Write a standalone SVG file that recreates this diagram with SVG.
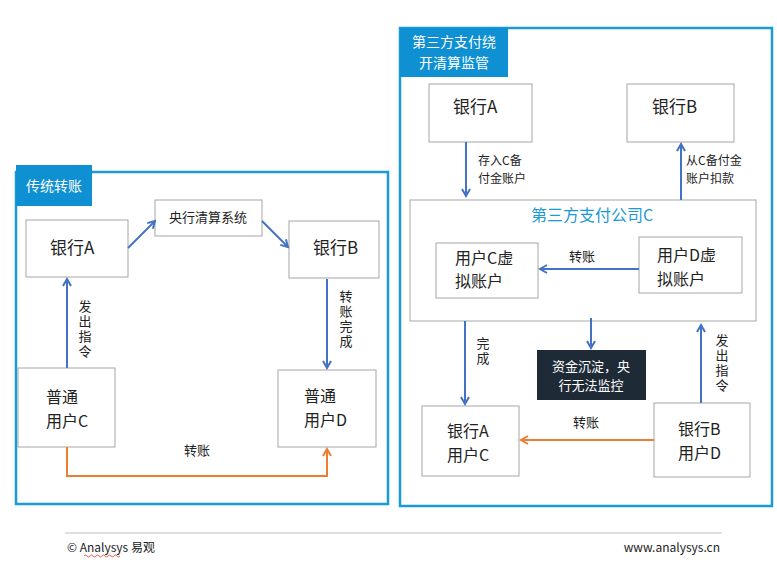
<svg xmlns="http://www.w3.org/2000/svg" width="777" height="574" viewBox="0 0 777 574">
<defs>
<style>
text{font-family:"Noto Sans CJK SC","Noto Sans",sans-serif;fill:#222;}
.panel{fill:none;stroke:#1a9ad6;stroke-width:2.5;}
.tbox{fill:#0e90d2;}
.tt{fill:#fff;font-size:14px;}
.box{fill:#fff;stroke:#a6a6a6;stroke-width:1;}
.big{font-size:17px;}
.two{font-size:16px;}
.mid{font-size:13px;text-anchor:middle;}
.lbl{font-size:13px;}
.lbl2{font-size:12px;}
.vert{font-size:13px;writing-mode:vertical-rl;letter-spacing:2px;}
.blue{fill:none;stroke:#4472c4;stroke-width:2;}
.orange{fill:none;stroke:#ed7d31;stroke-width:2;}
</style>
<marker id="ab" markerWidth="10" markerHeight="10" refX="8" refY="5" orient="auto" markerUnits="userSpaceOnUse">
<path d="M1,1 L8,5 L1,9" fill="none" stroke="#4472c4" stroke-width="2"/>
</marker>
<marker id="ao" markerWidth="10" markerHeight="10" refX="8" refY="5" orient="auto" markerUnits="userSpaceOnUse">
<path d="M1,1 L8,5 L1,9" fill="none" stroke="#ed7d31" stroke-width="2"/>
</marker>
</defs>
<rect width="777" height="574" fill="#fff"/>

<!-- left panel -->
<g id="panel-left">
<rect class="panel" x="16" y="172" width="372" height="332"/>
<rect class="tbox" x="16" y="165" width="76" height="41"/>
<text class="tt" x="54" y="191" text-anchor="middle">传统转账</text>
</g>
<g id="l-bankA"><rect class="box" x="26" y="220" width="102" height="57"/><text class="big" x="50" y="254">银行A</text></g>
<g id="l-center"><rect class="box" x="155" y="200" width="107" height="36"/><text class="mid" x="208" y="222">央行清算系统</text></g>
<g id="l-bankB"><rect class="box" x="289" y="221" width="90" height="57"/><text class="big" x="313" y="254">银行B</text></g>
<g id="l-userC"><rect class="box" x="18" y="368" width="97" height="79"/><text class="two" x="46" y="403">普通<tspan x="46" dy="23.5">用户C</tspan></text></g>
<g id="l-userD"><rect class="box" x="278" y="370" width="98" height="77"/><text class="two" x="304" y="402">普通<tspan x="304" dy="23.5">用户D</tspan></text></g>

<!-- right panel -->
<g id="panel-right">
<rect class="panel" x="400" y="28" width="372" height="478"/>
<rect class="tbox" x="400" y="28" width="108" height="49"/>
<text class="tt" x="454" y="47" text-anchor="middle">第三方支付绕<tspan x="454" dy="20.5">开清算监管</tspan></text>
</g>
<g id="r-bankA"><rect class="box" x="429" y="84" width="103" height="58"/><text class="big" x="453" y="113">银行A</text></g>
<g id="r-bankB"><rect class="box" x="627" y="84" width="107" height="58"/><text class="big" x="652" y="113">银行B</text></g>
<g id="r-company"><rect class="box" x="410" y="200" width="346" height="121"/><text x="592" y="221" font-size="16" text-anchor="middle" style="fill:#1a9ad6">第三方支付公司C</text></g>
<g id="r-vC"><rect class="box" x="436" y="243" width="102" height="55"/><text class="two" x="455" y="263.5">用户C虚<tspan x="455" dy="23.5">拟账户</tspan></text></g>
<g id="r-vD"><rect class="box" x="639" y="237" width="103" height="56"/><text class="two" x="657" y="261">用户D虚<tspan x="657" dy="23.5">拟账户</tspan></text></g>
<g id="r-note"><rect x="537" y="350" width="109" height="50" fill="#1e2a36"/><text x="591" y="371" font-size="13" text-anchor="middle" style="fill:#fff">资金沉淀，央<tspan x="591" dy="19">行无法监控</tspan></text></g>
<g id="r-userC"><rect class="box" x="422" y="406" width="97" height="70"/><text class="two" x="447" y="437">银行A<tspan x="447" dy="23.5">用户C</tspan></text></g>
<g id="r-userD"><rect class="box" x="654" y="403" width="96" height="74"/><text class="two" x="678" y="435">银行B<tspan x="678" dy="23.5">用户D</tspan></text></g>

<!-- connectors -->
<g id="connectors">
<line class="blue" x1="128" y1="248" x2="155" y2="221" marker-end="url(#ab)"/>
<line class="blue" x1="262" y1="221" x2="288" y2="247" marker-end="url(#ab)"/>
<line class="blue" x1="67" y1="368" x2="67" y2="279" marker-end="url(#ab)"/>
<line class="blue" x1="327" y1="279" x2="327" y2="368" marker-end="url(#ab)"/>
<polyline class="orange" points="67,447 67,476 327,476 327,449" marker-end="url(#ao)"/>
<line class="blue" x1="466" y1="142" x2="466" y2="196" marker-end="url(#ab)"/>
<line class="blue" x1="681" y1="200" x2="681" y2="144" marker-end="url(#ab)"/>
<line class="blue" x1="639" y1="269" x2="540" y2="269" marker-end="url(#ab)"/>
<line class="blue" x1="465" y1="321" x2="465" y2="404" marker-end="url(#ab)"/>
<line class="blue" x1="591" y1="318" x2="591" y2="348" marker-end="url(#ab)"/>
<line class="blue" x1="701" y1="403" x2="701" y2="325" marker-end="url(#ab)"/>
<line class="orange" x1="654" y1="440" x2="521" y2="440" marker-end="url(#ao)"/>
</g>

<!-- connector labels -->
<g id="labels">
<text class="vert" x="85" y="300">发出指令</text>
<text class="vert" x="346" y="290">转账完成</text>
<text class="lbl" x="197" y="455" text-anchor="middle">转账</text>
<text class="lbl2" x="478" y="165">存入C备<tspan x="478" dy="17.5">付金账户</tspan></text>
<text class="lbl2" x="686" y="165">从C备付金<tspan x="686" dy="17.5">账户扣款</tspan></text>
<text class="lbl" x="582" y="261" text-anchor="middle">转账</text>
<text class="vert" x="483" y="337">完成</text>
<text class="lbl" x="586" y="427" text-anchor="middle">转账</text>
<text class="vert" x="722" y="334">发出指令</text>
</g>

<!-- footer -->
<g id="footer">
<line x1="65" y1="533" x2="722" y2="533" stroke="#bfbfbf" stroke-width="1"/>
<text x="67" y="552" font-size="12">© Analysys 易观</text>
<path d="M84,556 q1.5,-2 3,0 t3,0 t3,0 t3,0 t3,0 t3,0 t3,0 t3,0 t3,0 t3,0 t3,0 t3,0" fill="none" stroke="#e03030" stroke-width="0.8"/>
<text x="720" y="552" font-size="12" text-anchor="end">www.analysys.cn</text>
</g>
</svg>
